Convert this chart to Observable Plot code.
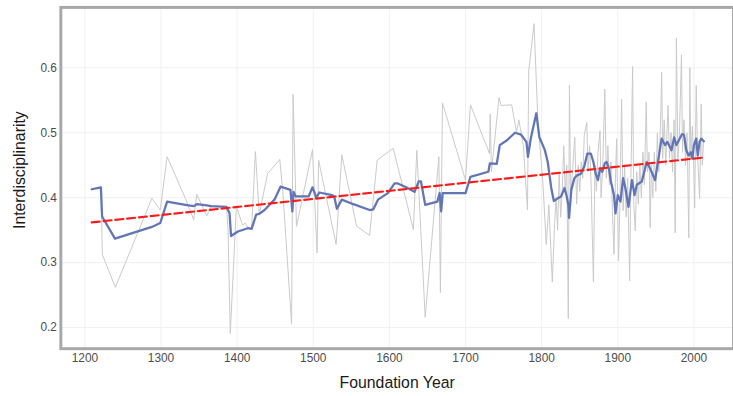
<!DOCTYPE html>
<html><head><meta charset="utf-8">
<script src="https://cdn.jsdelivr.net/npm/d3@7"></script>
<script src="https://cdn.jsdelivr.net/npm/@observablehq/plot@0.6"></script>
<style>
html,body{margin:0;padding:0;background:#fff;}
#wrap{width:733px;height:396px;overflow:hidden;}
</style></head><body><div id="wrap"></div>
<script>
// Raw (gray) series
const rawYears = [1209,1221,1223,1240,1288,1299,1308,1332,1343,1347,1360,1366,1386,1388,1391,1399,1407,1411,1414,1419,1424,1429,1440,1456,1460,1471.5,1473.5,1478,1499,1505,1507,1530,1537.5,1557,1574,1584,1605,1631.5,1636,1647,1665,1667,1669.7,1700,1706.4,1731.5,1732.4,1734,1744,1746.7,1760.6,1767,1770,1776,1781.4,1783,1790,1795,1801.7,
1806,1809.5,1814,1817,1819,1821,1823,1825,1827,1829,1831,1833,1835,1836.5,1838,1840.5,1843.5,1846,1848,1850,1852,1854,1856,1859.3,1861,1863,1865,1868,1870,1872,1874,1876.7,1878,1880,1883,1885,1887,1889,1891,1893,1895,1897,1898.5,1901,1903,1905,1907,1909,1911,1913,1915.6,1917,1919.5,1921,1923,1925,1927,1929,1931,1933,1935,1937.4,1939,1941,1942.6,1944,1946,1948,1950,1952,1954,1956,1957.7,1959,1961,1963,1966,1968,1970,1972,1974,1975.4,1977,1979,1981,1983.7,1985,1987,1989,1991,1993.3,1994.6,1996,1998,2000,2001,2003,2005,2007.5,2009.6,2011,2012.7];
const rawValues = [0.413,0.416,0.312,0.262,0.399,0.381,0.463,0.399,0.366,0.405,0.372,0.387,0.386,0.351,0.191,0.387,0.358,0.361,0.354,0.352,0.471,0.374,0.437,0.459,0.409,0.206,0.559,0.356,0.474,0.315,0.458,0.328,0.466,0.356,0.342,0.458,0.476,0.351,0.473,0.216,0.463,0.254,0.546,0.427,0.543,0.468,0.529,0.440,0.554,0.542,0.543,0.501,0.520,0.480,0.381,0.595,0.668,0.520,0.422,
0.328,0.389,0.270,0.360,0.400,0.350,0.440,0.370,0.410,0.480,0.410,0.450,0.214,0.573,0.400,0.440,0.493,0.390,0.450,0.410,0.455,0.430,0.496,0.516,0.440,0.480,0.420,0.270,0.450,0.410,0.470,0.503,0.400,0.440,0.567,0.430,0.480,0.420,0.455,0.380,0.313,0.430,0.491,0.303,0.400,0.552,0.380,0.450,0.370,0.430,0.272,0.410,0.602,0.390,0.349,0.440,0.390,0.450,0.400,0.470,0.420,0.547,0.440,0.470,0.354,0.450,0.400,0.470,0.410,0.500,0.440,0.510,0.593,0.460,0.520,0.450,0.542,0.460,0.500,0.440,0.520,0.346,0.646,0.460,0.500,0.620,0.470,0.520,0.450,0.500,0.338,0.600,0.460,0.510,0.440,0.384,0.573,0.460,0.399,0.544,0.450,0.486];

// Smoothed (blue) series
const smoothYears = [1209,1221,1222.6,1239.5,1288,1299,1308,1332,1343,1347,1360,1366,1386,1390,1392,1401,1414,1419,1425,1429,1436,1449,1453,1457,1470,1472.5,1474,1477,1494,1499,1504,1508,1524.5,1527.5,1531,1537.5,1552.7,1574,1578.7,1585,1598,1606.8,1611,1622,1633,1638.5,1641.5,1647,1663,1666,1668,1670,1700,1706.4,1730,1732,1741,1745,1754,1765,1773,1780,1782,1785.7,1793,1797,1804,1808,1812.6,1816,1821,1825.6,1830,1832.5,1835,1836,1839,1843,1846,1851.6,1856,1860,1864.6,1868,1871,1874,1876.7,1879.7,1883,1885.4,1888.4,1890.6,1895,1897,1900,1903.5,1907,1910,1914,1918.6,1922,1925,1931.6,1938,1942.5,1949,1952.5,1957.6,1962,1965,1968.5,1970.6,1974,1977,1984.5,1987,1990,1993,1996,1998,2000,2003,2005,2007.5,2009.6,2013];
const smoothValues = [0.413,0.416,0.371,0.337,0.355,0.361,0.394,0.389,0.387,0.390,0.388,0.387,0.386,0.376,0.341,0.348,0.353,0.352,0.374,0.375,0.381,0.397,0.407,0.417,0.412,0.379,0.409,0.402,0.402,0.416,0.400,0.408,0.404,0.402,0.383,0.397,0.390,0.381,0.382,0.397,0.407,0.422,0.422,0.416,0.409,0.425,0.425,0.389,0.394,0.407,0.379,0.407,0.407,0.432,0.440,0.453,0.452,0.481,0.488,0.500,0.497,0.486,0.463,0.491,0.530,0.493,0.474,0.455,0.415,0.395,0.399,0.402,0.415,0.404,0.389,0.369,0.412,0.430,0.434,0.437,0.448,0.468,0.468,0.455,0.437,0.427,0.445,0.440,0.453,0.455,0.445,0.427,0.404,0.376,0.404,0.394,0.430,0.415,0.386,0.427,0.404,0.420,0.425,0.455,0.445,0.427,0.453,0.491,0.481,0.486,0.478,0.473,0.493,0.481,0.498,0.497,0.473,0.465,0.470,0.460,0.481,0.491,0.465,0.486,0.491,0.487];

// Linear trend (red dashed)
const trendYears = [1209, 2012];
const trendValues = [0.362, 0.4617];

const xTicks = [1200,1300,1400,1500,1600,1700,1800,1900,2000];
const yTicks = [0.2,0.3,0.4,0.5,0.6];

const raw = rawYears.map((x,i)=>({x, y: rawValues[i]}));
const smooth = smoothYears.map((x,i)=>({x, y: smoothValues[i]}));
const trend = trendYears.map((x,i)=>({x, y: trendValues[i]}));

const chart = Plot.plot({
  width: 741, height: 396,
  marginLeft: 61, marginRight: 0, marginTop: 7, marginBottom: 44,
  style: {fontFamily: "'Liberation Sans', Arial, sans-serif", fontSize: "12px", color: "#4d4d4d", background: "#fff", overflow: "visible"},
  x: {domain: [1168.4, 2052]},
  y: {domain: [0.1675, 0.693]},
  marks: [
    Plot.gridX(xTicks, {stroke: "#f0f0f0", strokeOpacity: 1, strokeWidth: 1}),
    Plot.gridY(yTicks, {stroke: "#f0f0f0", strokeOpacity: 1, strokeWidth: 1}),
    Plot.line(raw, {x: "x", y: "y", stroke: "#c9c9c9", strokeWidth: 1}),
    Plot.line(smooth, {x: "x", y: "y", stroke: "#6276b5", strokeWidth: 2.3}),
    Plot.line(trend, {x: "x", y: "y", stroke: "#ff1a1a", strokeWidth: 2.2, strokeDasharray: "8,4"}),
    Plot.frame({stroke: "#a8a8a8", strokeWidth: 3}),
    Plot.axisX(xTicks, {tickSize: 0, tickPadding: 5, tickFormat: d => String(d), label: null, fontSize: 12}),
    Plot.axisY(yTicks, {tickSize: 0, tickPadding: 4, tickFormat: d => d.toFixed(1), label: null, fontSize: 12}),
    Plot.text(["Foundation Year"], {text: d => d, frameAnchor: "bottom", textAnchor: "middle", lineAnchor: "middle", dy: 35, fontSize: 16, fill: "#1a1a1a"}),
    Plot.text(["Interdisciplinarity"], {text: d => d, frameAnchor: "left", textAnchor: "middle", lineAnchor: "middle", rotate: -90, dx: -41.5, dy: -8, fontSize: 16, fill: "#1a1a1a"})
  ]
});
document.getElementById("wrap").appendChild(chart);
</script></body></html>
